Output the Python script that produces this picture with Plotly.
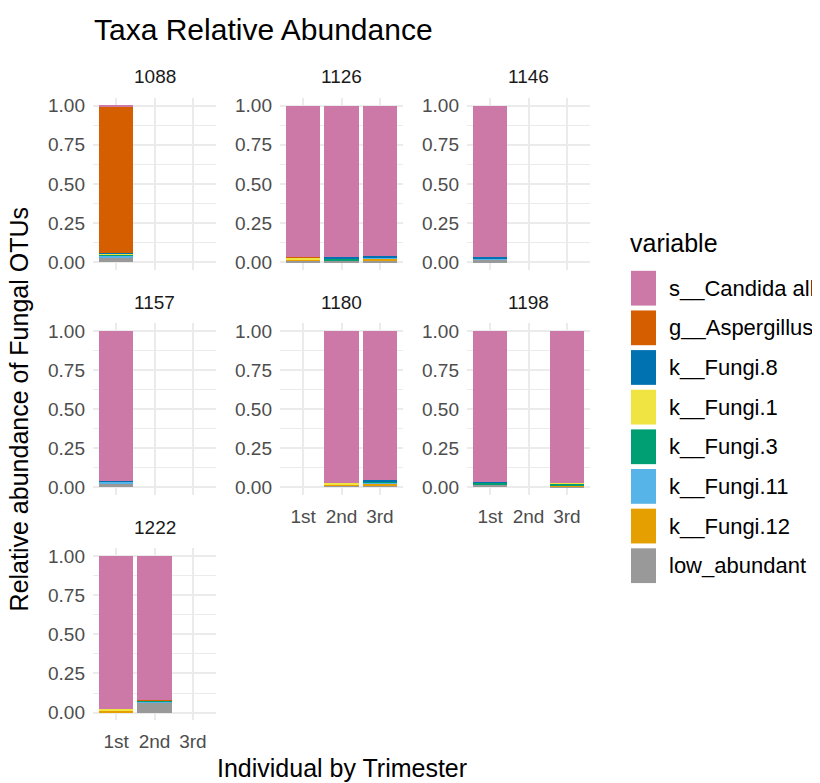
import plotly.graph_objects as go

# ---------------- data ----------------
individuals = ["1088", "1126", "1146", "1157", "1180", "1198", "1222"]
trimesters = ["1st", "2nd", "3rd"]

sample_individual = ["1088", "1126", "1126", "1126", "1146", "1157", "1180", "1180", "1198", "1198", "1222", "1222"]
sample_trimester = ["1st", "1st", "2nd", "3rd", "1st", "1st", "2nd", "3rd", "1st", "3rd", "1st", "2nd"]

taxa = ["s__Candida albicans", "g__Aspergillus", "k__Fungi.8", "k__Fungi.1",
        "k__Fungi.3", "k__Fungi.11", "k__Fungi.12", "low_abundant"]
taxa_colors = ["#CC79A7", "#D55E00", "#0072B2", "#F0E442",
               "#009E73", "#56B4E9", "#E69F00", "#999999"]

candida      = [0.005, 0.967, 0.970, 0.959, 0.968, 0.960, 0.970, 0.954, 0.963, 0.974, 0.980, 0.917]
aspergillus  = [0.939, 0.005, 0.000, 0.000, 0.000, 0.000, 0.000, 0.000, 0.000, 0.000, 0.000, 0.005]
fungi_8      = [0.003, 0.000, 0.006, 0.008, 0.006, 0.006, 0.000, 0.008, 0.005, 0.000, 0.000, 0.000]
fungi_1      = [0.006, 0.010, 0.000, 0.004, 0.000, 0.000, 0.010, 0.000, 0.000, 0.004, 0.006, 0.006]
fungi_3      = [0.005, 0.000, 0.012, 0.000, 0.000, 0.000, 0.000, 0.006, 0.012, 0.012, 0.000, 0.006]
fungi_11     = [0.012, 0.000, 0.000, 0.005, 0.014, 0.014, 0.000, 0.006, 0.000, 0.000, 0.000, 0.006]
fungi_12     = [0.000, 0.006, 0.000, 0.012, 0.000, 0.000, 0.006, 0.012, 0.000, 0.006, 0.014, 0.000]
low_abundant = [0.030, 0.012, 0.012, 0.012, 0.012, 0.020, 0.014, 0.014, 0.020, 0.004, 0.000, 0.060]

taxa_values = [candida, aspergillus, fungi_8, fungi_1, fungi_3, fungi_11, fungi_12, low_abundant]

y_tick_vals = [0, 0.25, 0.5, 0.75, 1.0]
y_tick_text = ["0.00", "0.25", "0.50", "0.75", "1.00"]

# ---------------- layout geometry (window pixels) ----------------
OFF = 8                      # default page body margin
W, H = 820 - OFF, 783 - OFF
col_x = [(93, 216), (280, 403), (467, 590)]
row_y = [(96.4, 269.6), (323.1, 496.3), (549.8, 723.0)]

def px(x):
    return (x - OFF) / W

def py(y):
    return 1 - (y - OFF) / H

FONT = "Liberation Sans, Arial, Helvetica, sans-serif"
TICK_COLOR = "#4D4D4D"
TEXT_COLOR = "#1A1A1A"

fig = go.Figure()
layout = dict(
    width=W, height=H,
    margin=dict(l=0, r=0, t=0, b=0),
    paper_bgcolor="white", plot_bgcolor="white",
    barmode="stack", showlegend=False,
    font=dict(family=FONT, color=TEXT_COLOR),
)

# panels that show x tick labels (bottom of each column in facet_wrap)
show_x = {"1180", "1198", "1222"}

annotations = []
for i, ind in enumerate(individuals):
    r, c = divmod(i, 3)
    k = "" if i == 0 else str(i + 1)
    xa, ya = "x" + k, "y" + k
    layout["xaxis" + k] = dict(
        domain=[px(col_x[c][0]), px(col_x[c][1])],
        anchor=ya, type="category",
        categoryorder="array", categoryarray=trimesters,
        range=[-0.6, 2.6],
        showgrid=True, gridcolor="#EBEBEB", gridwidth=2.2,
        zeroline=False, showline=False, ticks="",
        showticklabels=ind in show_x,
        tickfont=dict(family=FONT, size=19, color=TICK_COLOR),
        ticklabelstandoff=8,
    )
    layout["yaxis" + k] = dict(
        domain=[py(row_y[r][1]), py(row_y[r][0])],
        anchor=xa, range=[-0.05, 1.05],
        tickvals=y_tick_vals, ticktext=y_tick_text,
        showgrid=True, gridcolor="#EBEBEB", gridwidth=2.2,
        minor=dict(tickvals=[0.125, 0.375, 0.625, 0.875], showgrid=True,
                   gridcolor="#EBEBEB", gridwidth=1.1, ticks=""),
        zeroline=False, showline=False, ticks="",
        tickfont=dict(family=FONT, size=19, color=TICK_COLOR),
        ticklabelstandoff=7,
    )
    # strip label
    annotations.append(dict(
        text=ind, x=px((col_x[c][0] + col_x[c][1]) / 2), y=py(row_y[r][0] - 21),
        xref="paper", yref="paper", xanchor="center", yanchor="middle",
        showarrow=False, font=dict(family=FONT, size=19, color=TEXT_COLOR),
    ))
    # bars, bottom of stack first
    idx = [j for j, s in enumerate(sample_individual) if s == ind]
    for t in reversed(range(len(taxa))):
        fig.add_trace(go.Bar(
            x=[sample_trimester[j] for j in idx],
            y=[taxa_values[t][j] for j in idx],
            name=taxa[t], xaxis=xa, yaxis=ya,
            width=0.9, marker=dict(color=taxa_colors[t], line=dict(width=0)),
            showlegend=False,
        ))

# titles
annotations.append(dict(
    text="Taxa Relative Abundance", x=px(92), y=py(28), xref="paper", yref="paper",
    xanchor="left", yanchor="middle", showarrow=False,
    font=dict(family=FONT, size=30, color="#000000"),
))
annotations.append(dict(
    text="Individual by Trimester", x=px(341.5), y=py(771), xref="paper", yref="paper",
    xanchor="center", yanchor="middle", showarrow=False,
    font=dict(family=FONT, size=25, color="#000000"),
))
annotations.append(dict(
    text="Relative abundance of Fungal OTUs", x=px(19), y=py(410), xref="paper", yref="paper",
    xanchor="center", yanchor="middle", showarrow=False, textangle=-90,
    font=dict(family=FONT, size=25, color="#000000"),
))
# partial text at the top-right edge
annotations.append(dict(
    text="E", x=px(814), y=py(15), xref="paper", yref="paper",
    xanchor="left", yanchor="middle", showarrow=False,
    font=dict(family=FONT, size=18, color="#000000"),
))

# legend (drawn manually to mimic ggplot keys)
shapes = []
annotations.append(dict(
    text="variable", x=px(628), y=py(243), xref="paper", yref="paper",
    xanchor="left", yanchor="middle", showarrow=False,
    font=dict(family=FONT, size=25, color="#000000"),
))
for t, (name, col) in enumerate(zip(taxa, taxa_colors)):
    cy = 288 + 39.9 * t
    shapes.append(dict(
        type="rect", xref="paper", yref="paper",
        x0=px(631), x1=px(656), y0=py(cy + 17.5), y1=py(cy - 17.5),
        fillcolor=col, line=dict(width=0),
    ))
    annotations.append(dict(
        text=name, x=px(667), y=py(cy), xref="paper", yref="paper",
        xanchor="left", yanchor="middle", showarrow=False,
        font=dict(family=FONT, size=22, color="#000000"),
    ))

layout["annotations"] = annotations
layout["shapes"] = shapes
fig.update_layout(**layout)

fig.write_html("out.html")
